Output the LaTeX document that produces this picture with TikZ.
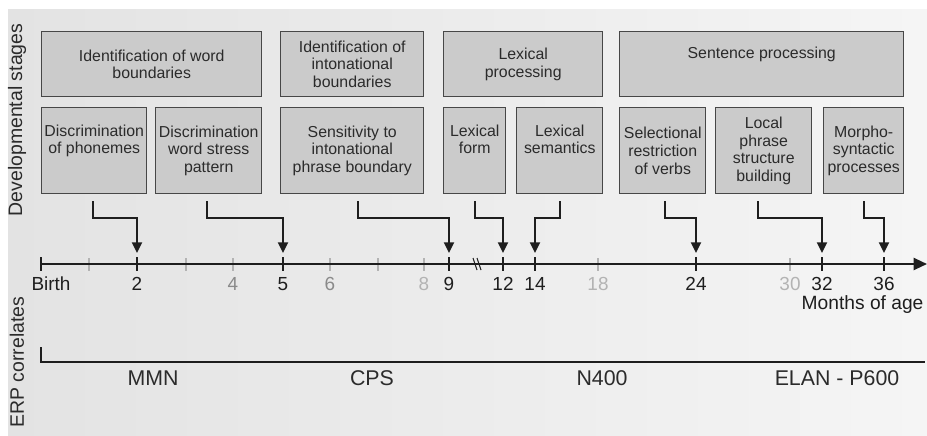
\documentclass[tikz,border=0pt]{standalone}
\usepackage{fontspec}
\setmainfont{Liberation Sans}
\usepackage{tikz}
\usetikzlibrary{arrows.meta}
\definecolor{DSBox}{HTML}{CBCBCB}
\definecolor{DSEdge}{HTML}{474747}
\definecolor{DSInk}{HTML}{1E1E1E}
\definecolor{DSText}{HTML}{2B2B2B}
\definecolor{DSMid}{HTML}{8A8A8A}
\definecolor{DSPale}{HTML}{B3B3B3}
\definecolor{DSBackL}{HTML}{E3E3E3}
\definecolor{DSBackR}{HTML}{F5F5F5}

\begin{document}
\begin{tikzpicture}[x=0.75pt,y=-0.75pt,
  stagebox/.style={draw=DSEdge,fill=DSBox,line width=1.1pt,anchor=north west,align=center,inner sep=1pt,text=DSText,font=\fontsize{11.9}{13.2}\selectfont},
  topbox/.style={stagebox,minimum height=48.75pt},
  subbox/.style={stagebox,minimum height=64.5pt},
  stagearrow/.style={DSInk,line width=1.5pt,-{Triangle[width=7.5pt,length=8pt]}},
  ticklabel/.style={font=\fontsize{14.2}{15}\selectfont},
  erplabel/.style={font=\fontsize{16}{18}\selectfont,text=DSText},
  sidelabel/.style={rotate=90,font=\fontsize{14.6}{17}\selectfont,text=DSText}]
\path[use as bounding box] (0,0) rectangle (927,435);
\fill[white] (0,0) rectangle (927,435);
\shade[left color=DSBackL,right color=DSBackR] (8,10) rectangle (927,435);

% stages, upper row
\node[topbox,minimum width=165pt] (wb) at (41,31) {Identification of word\\boundaries};
\node[topbox,minimum width=107.25pt] (ib) at (280,31) {Identification of\\intonational\\boundaries};
\node[topbox,minimum width=119.25pt] (lp) at (443,31) {Lexical\\processing};
\node[topbox,minimum width=213pt] (sp) at (619,31) {Sentence processing\\\strut};

% stages, lower row
\node[subbox,minimum width=78.75pt] (ph) at (41,107) {Discrimination\\of phonemes\\\strut};
\node[subbox,minimum width=79.5pt] (ws) at (155,107) {Discrimination\\word stress\\pattern};
\node[subbox,minimum width=107.25pt] (ipb) at (280,107) {Sensitivity to\\intonational\\phrase boundary};
\node[subbox,minimum width=46.5pt] (lf) at (443,107) {Lexical\\form\\\strut};
\node[subbox,minimum width=64.5pt] (ls) at (516,107) {Lexical\\semantics\\\strut};
\node[subbox,minimum width=64.5pt] (sr) at (619,107) {Selectional\\restriction\\of verbs};
\node[subbox,minimum width=72pt] (lps) at (715,107) {Local\\phrase\\structure\\building};
\node[subbox,minimum width=60pt] (ms) at (823,107) {Morpho-\\syntactic\\processes};

% time axis
\coordinate (birth) at (41,264);
\coordinate (axend) at (927,264);
\coordinate (lvl) at (0,218);
\foreach \x in {89,186,233,330,378,424,598,790}
  \draw[DSPale,line width=1pt] (\x,258) -- (\x,271);
\draw[DSInk,line width=1.6pt,-{Triangle[width=9pt,length=10pt]}] (birth) -- (axend);
\foreach \x/\m in {41/0,137/2,283/5,449/9,503/12,535/14,696/24,822/32,884/36}{
  \draw[DSInk,line width=1.5pt] (\x,257) -- (\x,271);
  \coordinate (h\m) at (\x,253);
}
\draw[DSInk,line width=0.8pt] (473,258) -- (477,270) (477,258) -- (481,270);

\node[ticklabel,text=DSInk] (lbirth) at (51,284) {Birth};
\foreach \x/\t in {137/2,283/5,449/9,503/12,535/14,696/24,822/32,884/36}
  \node[ticklabel,text=DSInk] (l\t) at (\x,284) {\t};
\foreach \x/\t in {233/4,330/6}
  \node[ticklabel,text=DSMid] (l\t) at (\x,284) {\t};
\foreach \x/\t in {424/8,598/18,790/30}
  \node[ticklabel,text=DSPale] (l\t) at (\x,284) {\t};
\node[ticklabel,text=DSInk,anchor=east,inner sep=1pt,font=\fontsize{14.4}{16}\selectfont] (months) at (925,305) {Months of age};

% stage onsets
\foreach \b/\m/\s in {ph/2/-1,ws/5/-1,ipb/9/4,lf/12/0,ls/14/0,sr/24/2,lps/32/-4.5,ms/36/0}
  \draw[stagearrow] ([xshift=\s pt,yshift=-5pt]\b.south) |- (h\m |- lvl) -- (h\m);

% ERP correlates
\coordinate (erp0) at (41,347);
\coordinate (erp1) at (41,362);
\coordinate (erp2) at (925,362);
\draw[DSInk,line width=1.5pt] (erp0) -- (erp1) -- (erp2);
\node[erplabel] (mmn) at (153,378) {MMN};
\node[erplabel] (cps) at (372,378) {CPS};
\node[erplabel] (n400) at (602,378) {N400};
\node[erplabel] (elan) at (837,378) {ELAN - P600};

\node[sidelabel] (devs) at (17,120) {Developmental stages};
\node[sidelabel] (erps) at (17,362) {ERP correlates};
\end{tikzpicture}
\end{document}
